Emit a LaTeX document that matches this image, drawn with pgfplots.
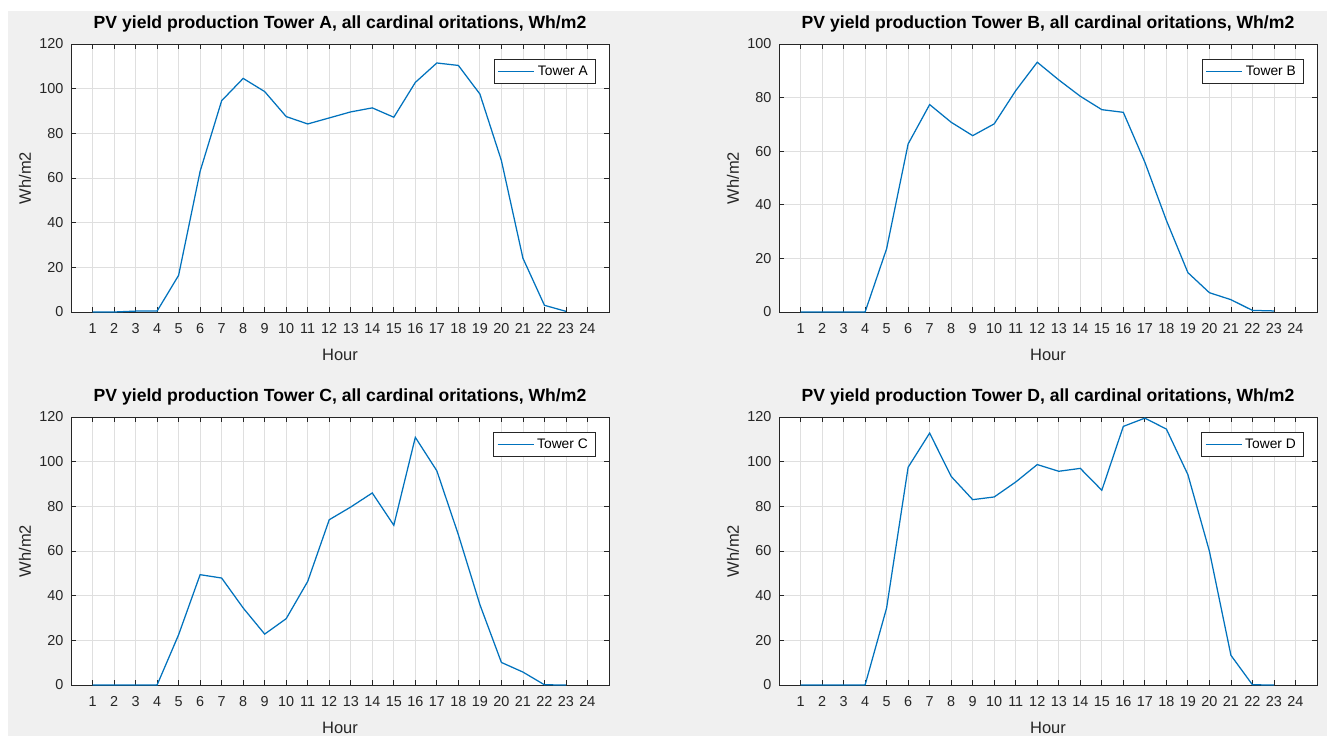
\documentclass[border=0pt]{standalone}
\usepackage{fontspec}
\setmainfont{Liberation Sans}
\usepackage{pgfplots}
\pgfplotsset{compat=1.18}
\definecolor{bg}{RGB}{240,240,240}
\definecolor{axgray}{RGB}{38,38,38}
\definecolor{gridc}{RGB}{223,223,223}
\definecolor{mblue}{RGB}{0,114,189}
\pgfplotsset{legend image code/.code={\draw[#1] (0pt,0pt) -- (36pt,0pt);}}
\pgfplotsset{mat/.style={
 scale only axis, width=538pt, height=268pt, anchor=north west,
 xmin=0, xmax=25, xtick={1,...,24}, ymin=0,
 axis background/.style={fill=white},
 axis line style={color=axgray, line width=1pt},
 tick align=inside, tick pos=both, major tick length=5pt,
 every tick/.style={color=axgray, line width=0.8pt},
 grid=major, major grid style={color=gridc, line width=0.8pt},
 /pgf/number format/assume math mode=true,
 ticklabel style={font=\fontsize{14.4}{16}\selectfont, text=axgray, inner sep=0pt},
 xticklabel style={anchor=base, yshift=-21.6pt},
 yticklabel style={anchor=east, xshift=-7.5pt},
 title style={font=\bfseries\fontsize{17.6}{20}\selectfont, text=black, at={(axis description cs:0.5,1)}, anchor=base, yshift=9.5pt, inner sep=0pt},
 xlabel={Hour},
 xlabel style={font=\fontsize{16.5}{18}\selectfont, text=axgray, at={(axis description cs:0.5,0)}, anchor=base, yshift=-48pt, inner sep=0pt},
 ylabel={Wh/m2},
 ylabel style={font=\fontsize{16.5}{18}\selectfont, text=axgray, at={(axis description cs:-0.0855,0.5)}, anchor=center, inner sep=0pt},
 legend style={at={(axis description cs:1,1)}, anchor=north east, xshift=-14pt, yshift=-15pt, draw=axgray, fill=white, font=\fontsize{13.8}{15}\selectfont, inner xsep=4pt, inner ysep=1.5pt, nodes={inner xsep=3pt, inner ysep=5pt}},
 legend cell align=left,
}}
\tikzset{pv/.style={draw=mblue, color=mblue, line width=1.25pt, mark=none}}
\begin{document}
\begin{tikzpicture}[x=1pt,y=1pt]
\fill[white] (0,0) rectangle (1327,-736);
\fill[bg] (8,-11) rectangle (1327,-736);

\begin{axis}[mat, at={(71pt,-44pt)}, ymax=120, ytick={0,20,...,120},
 title={PV yield production Tower A, all cardinal oritations, Wh/m2}]
\addplot[pv] coordinates {(1,0) (2,0) (3,0.4) (4,0.4) (5,16.4) (6,63) (7,94.6) (8,104.6) (9,98.7) (10,87.5) (11,84.2) (12,86.9) (13,89.6) (14,91.4) (15,87.2) (16,102.8) (17,111.5) (18,110.4) (19,97.6) (20,67.8) (21,24.1) (22,3.0) (23,0.3)};
\legend{Tower A}
\end{axis}

\begin{axis}[mat, at={(779pt,-44pt)}, ymax=100, ytick={0,20,...,100},
 title={PV yield production Tower B, all cardinal oritations, Wh/m2}]
\addplot[pv] coordinates {(1,0) (2,0) (3,0) (4,0) (5,23.6) (6,62.7) (7,77.4) (8,70.8) (9,65.8) (10,70.2) (11,82.6) (12,93.2) (13,86.6) (14,80.5) (15,75.5) (16,74.5) (17,55.9) (18,34.2) (19,14.7) (20,7.2) (21,4.6) (22,0.6) (23,0.4)};
\legend{Tower B}
\end{axis}

\begin{axis}[mat, at={(71pt,-417pt)}, ymax=120, ytick={0,20,...,120},
 title={PV yield production Tower C, all cardinal oritations, Wh/m2}]
\addplot[pv] coordinates {(1,0) (2,0) (3,0) (4,0) (5,22.5) (6,49.4) (7,47.9) (8,34.5) (9,22.8) (10,29.7) (11,46.4) (12,74.0) (13,79.7) (14,86.0) (15,71.5) (16,110.9) (17,95.9) (18,67.3) (19,36.0) (20,10.1) (21,5.8) (22,0.1) (23,0)};
\legend{Tower C}
\end{axis}

\begin{axis}[mat, at={(779pt,-417pt)}, ymax=120, ytick={0,20,...,120},
 title={PV yield production Tower D, all cardinal oritations, Wh/m2}]
\addplot[pv] coordinates {(1,0) (2,0) (3,0) (4,0) (5,34.5) (6,97.5) (7,112.8) (8,93.4) (9,83.0) (10,84.2) (11,90.9) (12,98.7) (13,95.7) (14,97.0) (15,87.2) (16,115.8) (17,119.5) (18,114.6) (19,94.2) (20,59.9) (21,13.3) (22,0.1) (23,0)};
\legend{Tower D}
\end{axis}

\pgfresetboundingbox
\useasboundingbox (0,0) rectangle (1327,-736);
\end{tikzpicture}
\end{document}
